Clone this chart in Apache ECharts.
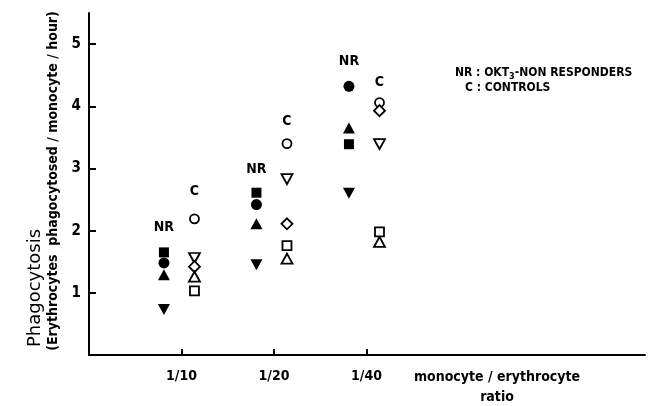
<!DOCTYPE html>
<html><head><meta charset="utf-8">
<script src="https://cdn.jsdelivr.net/npm/echarts@6/dist/echarts.min.js"></script>
<style>html,body{margin:0;padding:0;background:#fff}#c{width:656px;height:406px}</style>
</head><body><div id="c"></div>
<script>
// ratio categories (x positions 1,2,3)
const ratioLabels = ['1/10', '1/20', '1/40'];
const yTicks = [1, 2, 3, 4, 5];
// NR: OKT3 non-responders (filled)
const nrSquare = [1.65, 2.61, 3.39];
const nrCircle = [1.48, 2.42, 4.32];
const nrTriUp = [1.29, 2.11, 3.65];
const nrTriDown = [0.73, 1.45, 2.60];
// C: controls (open)
const cCircle = [2.19, 3.40, 4.06];
const cTriDown = [1.56, 2.83, 3.39];
const cDiamond = [1.42, 2.11, 3.93];
const cTriUp = [1.26, 1.55, 1.82];
const cSquare = [1.03, 1.76, 1.98];
// group label heights
const nrLabelY = [2.06, 2.98, 4.73];
const cLabelY = [2.63, 3.76, 4.39];

const NR_OFF = -0.19, C_OFF = 0.14;
const FONT = '"DejaVu Sans Condensed", "DejaVu Sans", sans-serif';
const TRI_UP = 'path://M5,0 L10,9 L0,9 Z';
const TRI_DN = 'path://M0,0 L10,0 L5,9 Z';
const DIAM = 'path://M5,0 L10,5 L5,10 L0,5 Z';

function pts(vals, off) { return vals.map((v, i) => [i + 1 + off, v]); }
function filled(name, vals, symbol, size) {
  return { name, type: 'scatter', data: pts(vals, NR_OFF), symbol, symbolSize: size,
    itemStyle: { color: '#000', opacity: 1 }, z: 3 };
}
function open(name, vals, symbol, size) {
  return { name, type: 'scatter', data: pts(vals, C_OFF), symbol, symbolSize: size,
    itemStyle: { color: '#fff', borderColor: '#000', borderWidth: 1.8, opacity: 1 }, z: 3 };
}
function labels(text, ys, off) {
  return { type: 'scatter', symbol: 'circle', symbolSize: 2, data: ys.map((v, i) => [i + 1 + off, v]),
    itemStyle: { color: 'rgba(0,0,0,0)', opacity: 1 },
    label: { show: true, position: 'inside', formatter: text, color: '#000',
      fontFamily: FONT, fontWeight: 'bold', fontSize: 14 }, silent: true, z: 4 };
}

const chart = echarts.init(document.getElementById('c'));
chart.setOption({
  animation: false,
  backgroundColor: '#fff',
  grid: { left: 89, right: 11, top: 13, bottom: 51 },
  xAxis: {
    type: 'value', min: 0, max: 6.01, interval: 1,
    axisLine: { lineStyle: { color: '#000', width: 2 } },
    axisTick: { inside: true, length: 6, lineStyle: { color: '#000', width: 2 }, customValues: [1, 2, 3] },
    axisLabel: { customValues: [1, 2, 3], formatter: v => ratioLabels[Math.round(v) - 1] || '',
      color: '#000', fontFamily: FONT, fontWeight: 'bold', fontSize: 14, margin: 14 },
    splitLine: { show: false }
  },
  yAxis: {
    type: 'value', min: 0, max: 5.5, interval: 1,
    axisLine: { show: true, lineStyle: { color: '#000', width: 2 } },
    axisTick: { show: true, inside: true, length: 7, lineStyle: { color: '#000', width: 2 }, customValues: yTicks },
    axisLabel: { customValues: yTicks, color: '#000', fontFamily: FONT, fontWeight: 'bold', fontSize: 15, margin: 8 },
    splitLine: { show: false }
  },
  series: [
    filled('NR square', nrSquare, 'rect', 10),
    filled('NR circle', nrCircle, 'circle', 11),
    filled('NR triangle', nrTriUp, TRI_UP, [12, 11]),
    filled('NR inverted triangle', nrTriDown, TRI_DN, [12, 11]),
    open('C circle', cCircle, 'circle', 9),
    open('C inverted triangle', cTriDown, TRI_DN, [11, 10]),
    open('C diamond', cDiamond, DIAM, [11, 11]),
    open('C triangle', cTriUp, TRI_UP, [11, 10]),
    open('C square', cSquare, 'rect', 9),
    labels('NR', nrLabelY, NR_OFF),
    labels('C', cLabelY, C_OFF)
  ],
  graphic: [
    { type: 'text', x: 35, y: 288, rotation: Math.PI / 2,
      style: { text: 'Phagocytosis', font: '18px "DejaVu Sans", sans-serif', fill: '#000', align: 'center', verticalAlign: 'middle' } },
    { type: 'text', x: 53, y: 181, rotation: Math.PI / 2,
      style: { text: '(Erythrocytes  phagocytosed / monocyte / hour)', font: 'bold 14px ' + FONT, fill: '#000', align: 'center', verticalAlign: 'middle' } },
    { type: 'text', x: 497, y: 377,
      style: { text: 'monocyte / erythrocyte', font: 'bold 14px ' + FONT, fill: '#000', align: 'center', verticalAlign: 'middle' } },
    { type: 'text', x: 497, y: 397,
      style: { text: 'ratio', font: 'bold 14px ' + FONT, fill: '#000', align: 'center', verticalAlign: 'middle' } },
    { type: 'text', x: 455, y: 73,
      style: { text: '{b|NR : OKT}{s|3}{b|-NON RESPONDERS}', verticalAlign: 'middle',
        rich: { b: { font: 'bold 12px ' + FONT, fill: '#000' }, s: { font: 'bold 9px ' + FONT, fill: '#000', padding: [7, 0, 0, 0] } } } },
    { type: 'text', x: 465, y: 88,
      style: { text: 'C : CONTROLS', font: 'bold 12px ' + FONT, fill: '#000', verticalAlign: 'middle' } }
  ]
});
</script></body></html>
